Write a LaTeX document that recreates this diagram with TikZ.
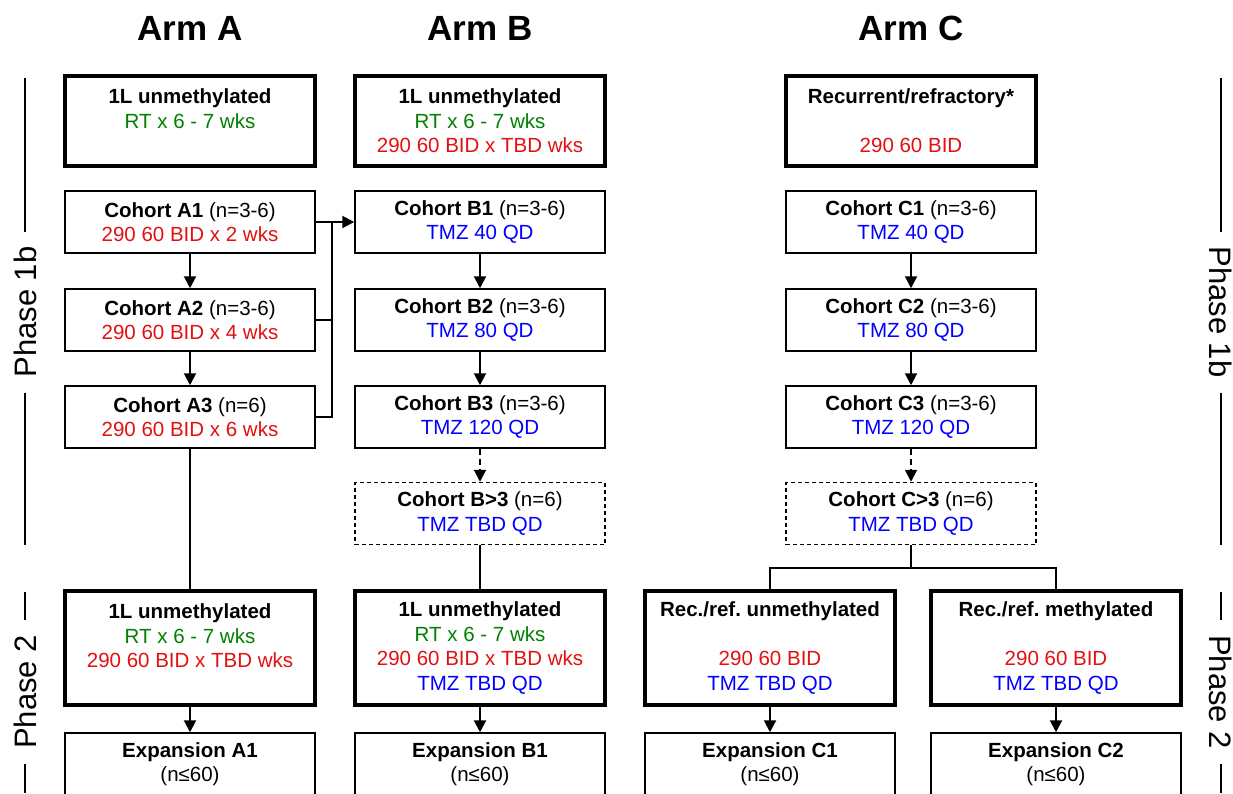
\documentclass[tikz,border=0pt]{standalone}
\usepackage{fontspec}
\setmainfont{Liberation Sans}
\usetikzlibrary{arrows.meta}
\definecolor{rtgreen}{RGB}{0,128,0}
\definecolor{drugred}{RGB}{226,16,16}
\definecolor{tmzblue}{RGB}{0,0,255}
\frenchspacing
\newcommand{\rtline}{\textcolor{rtgreen}{RT x 6 - 7 wks}}
\newcommand{\drugline}[1]{\textcolor{drugred}{290 60 BID#1}}
\newcommand{\tmzline}[1]{\textcolor{tmzblue}{TMZ #1 QD}}
\newcommand{\emptyline}{\phantom{0}}
\tikzset{
  box/.style={draw, line width=1.5pt, minimum width=250pt, minimum height=62pt,
    inner sep=0pt, align=center, font=\fontsize{20.5}{24.5}\selectfont},
  bigbox/.style={box, line width=4pt},
  dashbox/.style={box, dash pattern=on 4pt off 3pt},
  conn/.style={line width=2pt},
  arr/.style={conn, -{Triangle[length=12pt,width=12pt]}},
  dasharr/.style={arr, dash pattern=on 6pt off 4pt},
  armtitle/.style={font=\fontsize{35}{40}\selectfont\bfseries},
  phase/.style={fill=white, inner xsep=15pt, inner ysep=4pt, font=\fontsize{31}{36}\selectfont}
}
\begin{document}
\begin{tikzpicture}[x=1pt, y=-1pt]
  \useasboundingbox (0,0) rectangle (1233,793);

  % titles
  \node[armtitle] (tA) at (190,28) {Arm A};
  \node[armtitle] (tB) at (480,28) {Arm B};
  \node[armtitle] (tC) at (911,28) {Arm C};

  % phase markers
  \foreach \s/\x/\r in {l/25/90, r/1221/-90} {
    \coordinate (ph1top\s) at (\x,78);
    \coordinate (ph1bot\s) at (\x,545);
    \coordinate (ph2top\s) at (\x,592);
    \coordinate (ph2bot\s) at (\x,793);
    \draw[line width=1.5pt] (ph1top\s) -- (ph1bot\s);
    \draw[line width=1.5pt] (ph2top\s) -- (ph2bot\s);
    \node[phase, rotate=\r] (ph1\s) at (\x,312) {Phase 1b};
    \node[phase, rotate=\r] (ph2\s) at (\x,692) {Phase 2};
  }

  % top boxes
  \node[bigbox, minimum height=90pt] (ta) at (190,121)
    {\textbf{1L unmethylated}\\ \rtline\\ \emptyline};
  \node[bigbox, minimum height=90pt] (tb) at (480,121)
    {\textbf{1L unmethylated}\\ \rtline\\ \drugline{ x TBD wks}};
  \node[bigbox, minimum height=90pt] (tc) at (911,121)
    {\textbf{Recurrent/refractory*}\\ \emptyline\\ \drugline{}};

  % phase 1b cohorts
  \foreach \i/\y/\n/\wk in {1/222/3-6/2, 2/320/3-6/4, 3/417/6/6} {
    \node[box] (a\i) at (190,\y) {\textbf{Cohort A\i} (n=\n)\\ \drugline{ x \wk\ wks}};
  }
  \foreach \i/\y/\d in {1/222/40, 2/320/80, 3/417/120} {
    \node[box] (b\i) at (480,\y) {\textbf{Cohort B\i} (n=3-6)\\ \tmzline{\d}};
    \node[box] (c\i) at (911,\y) {\textbf{Cohort C\i} (n=3-6)\\ \tmzline{\d}};
  }
  \node[dashbox] (b4) at (480,513.5) {\textbf{Cohort B>3} (n=6)\\ \tmzline{TBD}};
  \node[dashbox] (c4) at (911,513.5) {\textbf{Cohort C>3} (n=6)\\ \tmzline{TBD}};

  % phase 2
  \node[bigbox, minimum height=114pt] (pa) at (190,648)
    {\textbf{1L unmethylated}\\ \rtline\\ \drugline{ x TBD wks}\\ \emptyline};
  \node[bigbox, minimum height=114pt] (pb) at (480,648)
    {\textbf{1L unmethylated}\\ \rtline\\ \drugline{ x TBD wks}\\ \tmzline{TBD}};
  \node[bigbox, minimum height=114pt] (pc1) at (770,648)
    {\textbf{Rec./ref. unmethylated}\\ \emptyline\\ \drugline{}\\ \tmzline{TBD}};
  \node[bigbox, minimum height=114pt] (pc2) at (1056,648)
    {\textbf{Rec./ref. methylated}\\ \emptyline\\ \drugline{}\\ \tmzline{TBD}};

  \node[box] (ea) at (190,764) {\textbf{Expansion A1}\\ (n≤60)};
  \node[box] (eb) at (480,764) {\textbf{Expansion B1}\\ (n≤60)};
  \node[box] (ec1) at (770,764) {\textbf{Expansion C1}\\ (n≤60)};
  \node[box] (ec2) at (1056,764) {\textbf{Expansion C2}\\ (n≤60)};

  % connectors
  \draw[arr] (a1) -- (a2);
  \draw[arr] (a2) -- (a3);
  \coordinate (bus) at (332,0);
  \draw[arr] (a1.east) -- (b1.west);
  \draw[conn] (a2.east) -- (a2.east -| bus);
  \draw[conn] (a3.east) -- (a3.east -| bus) -- (a1.east -| bus);
  \draw[conn] (a3) -- (pa);
  \foreach \p in {b,c} {
    \draw[arr] (\p1) -- (\p2);
    \draw[arr] (\p2) -- (\p3);
    \draw[dasharr] (\p3) -- (\p4);
  }
  \draw[conn] (b4) -- (pb);
  \coordinate (fork) at (911,568);
  \draw[conn] (c4.south) -- (fork);
  \draw[conn] (pc1.north) |- (fork) -| (pc2.north);
  \draw[arr] (pa) -- (ea);
  \draw[arr] (pb) -- (eb);
  \draw[arr] (pc1) -- (ec1);
  \draw[arr] (pc2) -- (ec2);
\end{tikzpicture}
\end{document}
